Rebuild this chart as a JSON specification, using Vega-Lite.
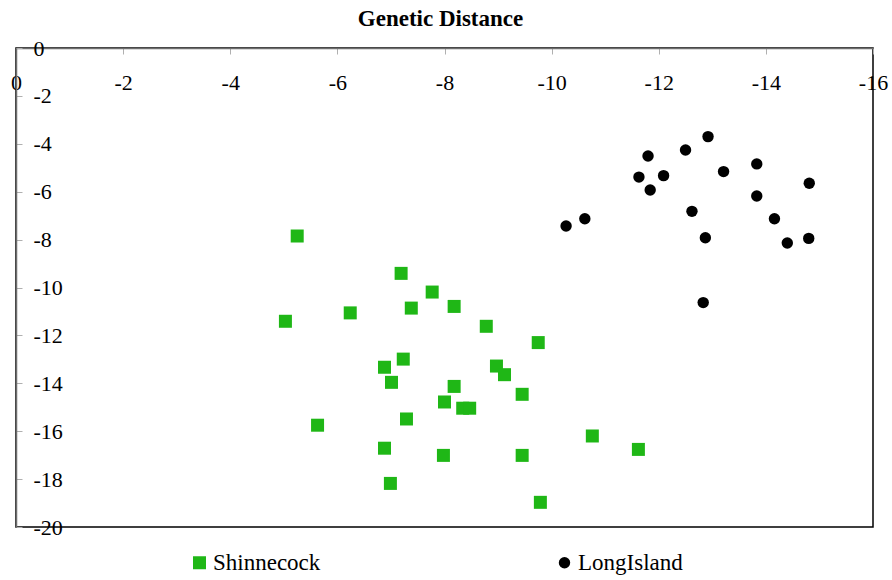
{
  "$schema": "https://vega.github.io/schema/vega-lite/v6.json",
  "autosize": "none",
  "padding": {"left": 16, "top": 48, "right": 19, "bottom": 53},
  "width": 857,
  "height": 479,
  "title": {
    "text": "Genetic Distance",
    "font": "Liberation Serif, Times New Roman, serif",
    "fontSize": 23,
    "fontWeight": "bold",
    "color": "#000000",
    "anchor": "middle",
    "baseline": "alphabetic",
    "offset": -12,
    "dx": -4
  },
  "data": {
    "values": [
      {"pop": "LongIsland", "x": -12.92, "y": -3.70},
      {"pop": "LongIsland", "x": -12.50, "y": -4.26},
      {"pop": "LongIsland", "x": -11.80, "y": -4.51},
      {"pop": "LongIsland", "x": -13.83, "y": -4.84},
      {"pop": "LongIsland", "x": -13.21, "y": -5.16},
      {"pop": "LongIsland", "x": -11.63, "y": -5.39},
      {"pop": "LongIsland", "x": -12.09, "y": -5.33},
      {"pop": "LongIsland", "x": -14.81, "y": -5.65},
      {"pop": "LongIsland", "x": -11.84, "y": -5.93},
      {"pop": "LongIsland", "x": -13.83, "y": -6.18},
      {"pop": "LongIsland", "x": -12.62, "y": -6.82},
      {"pop": "LongIsland", "x": -10.62, "y": -7.13},
      {"pop": "LongIsland", "x": -10.27, "y": -7.43},
      {"pop": "LongIsland", "x": -14.16, "y": -7.13},
      {"pop": "LongIsland", "x": -12.87, "y": -7.92},
      {"pop": "LongIsland", "x": -14.40, "y": -8.14},
      {"pop": "LongIsland", "x": -14.80, "y": -7.95},
      {"pop": "LongIsland", "x": -12.83, "y": -10.63},
      {"pop": "Shinnecock", "x": -5.25, "y": -7.85},
      {"pop": "Shinnecock", "x": -7.19, "y": -9.41},
      {"pop": "Shinnecock", "x": -7.77, "y": -10.19},
      {"pop": "Shinnecock", "x": -6.24, "y": -11.06},
      {"pop": "Shinnecock", "x": -7.38, "y": -10.86},
      {"pop": "Shinnecock", "x": -8.18, "y": -10.79},
      {"pop": "Shinnecock", "x": -5.03, "y": -11.41},
      {"pop": "Shinnecock", "x": -8.78, "y": -11.62},
      {"pop": "Shinnecock", "x": -9.75, "y": -12.30},
      {"pop": "Shinnecock", "x": -7.23, "y": -12.99},
      {"pop": "Shinnecock", "x": -6.88, "y": -13.33},
      {"pop": "Shinnecock", "x": -8.97, "y": -13.28},
      {"pop": "Shinnecock", "x": -9.12, "y": -13.64},
      {"pop": "Shinnecock", "x": -7.01, "y": -13.96},
      {"pop": "Shinnecock", "x": -8.18, "y": -14.13},
      {"pop": "Shinnecock", "x": -9.45, "y": -14.46},
      {"pop": "Shinnecock", "x": -8.00, "y": -14.78},
      {"pop": "Shinnecock", "x": -8.34, "y": -15.04},
      {"pop": "Shinnecock", "x": -8.47, "y": -15.04},
      {"pop": "Shinnecock", "x": -7.29, "y": -15.49},
      {"pop": "Shinnecock", "x": -5.63, "y": -15.75},
      {"pop": "Shinnecock", "x": -10.76, "y": -16.20},
      {"pop": "Shinnecock", "x": -11.62, "y": -16.76},
      {"pop": "Shinnecock", "x": -6.88, "y": -16.71},
      {"pop": "Shinnecock", "x": -7.98, "y": -17.01},
      {"pop": "Shinnecock", "x": -9.45, "y": -17.01},
      {"pop": "Shinnecock", "x": -6.99, "y": -18.18},
      {"pop": "Shinnecock", "x": -9.79, "y": -18.97}
    ]
  },
  "mark": {"type": "point", "filled": true, "opacity": 1, "strokeWidth": 0},
  "encoding": {
    "x": {
      "field": "x",
      "type": "quantitative",
      "scale": {"domain": [0, -16], "nice": false, "zero": false},
      "axis": {
        "orient": "top",
        "title": null,
        "values": [0, -2, -4, -6, -8, -10, -12, -14, -16],
        "labelExpr": "toString(datum.value)",
        "labelBaseline": "middle",
        "labelPadding": -28,
        "tickSize": -6,
        "labelFlush": false,
        "labelOverlap": false
      }
    },
    "y": {
      "field": "y",
      "type": "quantitative",
      "scale": {"domain": [-20, 0], "nice": false, "zero": false},
      "axis": {
        "orient": "left",
        "title": null,
        "values": [0, -2, -4, -6, -8, -10, -12, -14, -16, -18, -20],
        "labelExpr": "toString(datum.value)",
        "labelAlign": "left",
        "labelBaseline": "middle",
        "labelPadding": -11,
        "tickSize": -6,
        "labelFlush": false,
        "labelOverlap": false
      }
    },
    "color": {
      "field": "pop",
      "type": "nominal",
      "scale": {"domain": ["Shinnecock", "LongIsland"], "range": ["#1fb716", "#000000"]},
      "legend": {
        "title": null,
        "orient": "none",
        "legendX": 172,
        "legendY": 503,
        "direction": "horizontal",
        "columns": 2,
        "columnPadding": 232,
        "padding": 0,
        "labelOffset": 2,
        "symbolSize": 180,
        "labelFont": "Liberation Serif, Times New Roman, serif",
        "labelFontSize": 23,
        "labelColor": "#000000",
        "labelLimit": 300
      }
    },
    "shape": {
      "field": "pop",
      "type": "nominal",
      "scale": {"domain": ["Shinnecock", "LongIsland"], "range": ["square", "circle"]}
    },
    "size": {
      "field": "pop",
      "type": "nominal",
      "scale": {"domain": ["Shinnecock", "LongIsland"], "range": [169, 130]},
      "legend": null
    }
  },
  "config": {
    "font": "Liberation Serif, Times New Roman, serif",
    "view": {"stroke": "#000000", "strokeWidth": 1.5},
    "axis": {
      "grid": false,
      "domainColor": "#6e6e6e",
      "domainWidth": 1.5,
      "tickColor": "#b0b0b0",
      "tickWidth": 1,
      "labelFont": "Liberation Serif, Times New Roman, serif",
      "labelFontSize": 22,
      "labelColor": "#000000"
    }
  }
}
